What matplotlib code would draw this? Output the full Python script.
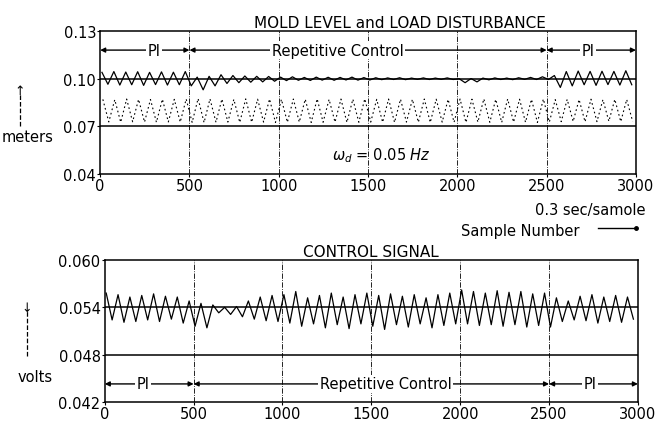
import numpy as np
import matplotlib.pyplot as plt

plt.rcParams['font.family'] = ['DejaVu Sans']

# samples per cycle of the 0.05 Hz disturbance at 0.3 sec/sample
period = 200 / 3.0

# ---- top plot: mold level (one peak / trough per cycle, 45 cycles) ----
level_peaks = [0.1040, 0.1045, 0.1042, 0.1044, 0.1040, 0.1043, 0.1041, 0.1045,
               0.1010, 0.1015, 0.1025, 0.1020, 0.1017, 0.1015, 0.1014,
               0.1010, 0.1012, 0.1008, 0.1010, 0.1009, 0.1008, 0.1010, 0.1007,
               0.1006, 0.1005, 0.1006, 0.1004, 0.1005, 0.1004, 0.1005,
               0.1000, 0.1001, 0.1004, 0.1005, 0.1004, 0.1006, 0.1008, 0.1012,
               0.1020, 0.1045, 0.1048, 0.1046, 0.1047, 0.1046, 0.1050]
level_troughs = [0.0965, 0.0960, 0.0962, 0.0958, 0.0963, 0.0960, 0.0962, 0.0955,
                 0.0930, 0.0955, 0.0970, 0.0975, 0.0978, 0.0980, 0.0984,
                 0.0988, 0.0990, 0.0989, 0.0991, 0.0990, 0.0992, 0.0991, 0.0992,
                 0.0994, 0.0995, 0.0994, 0.0996, 0.0995, 0.0996, 0.0995,
                 0.0975, 0.0980, 0.0993, 0.0995, 0.0994, 0.0996, 0.0995, 0.0995,
                 0.0945, 0.0955, 0.0962, 0.0958, 0.0963, 0.0960, 0.0962]

# load disturbance
load_peaks = [0.0870, 0.0868, 0.0872, 0.0870, 0.0869, 0.0871, 0.0870, 0.0872,
              0.0875, 0.0873, 0.0872, 0.0870, 0.0873, 0.0871, 0.0872,
              0.0870, 0.0872, 0.0871, 0.0873, 0.0870, 0.0872, 0.0871, 0.0873,
              0.0870, 0.0872, 0.0871, 0.0870, 0.0872, 0.0871, 0.0870,
              0.0872, 0.0871, 0.0873, 0.0870, 0.0872, 0.0871, 0.0870, 0.0872,
              0.0868, 0.0870, 0.0869, 0.0871, 0.0868, 0.0870, 0.0869]
load_troughs = [0.0728, 0.0726, 0.0729, 0.0727, 0.0726, 0.0728, 0.0727, 0.0725,
                0.0724, 0.0726, 0.0727, 0.0725, 0.0726, 0.0727, 0.0725,
                0.0726, 0.0727, 0.0725, 0.0726, 0.0727, 0.0725, 0.0726, 0.0727,
                0.0726, 0.0725, 0.0727, 0.0726, 0.0725, 0.0727, 0.0726,
                0.0725, 0.0727, 0.0726, 0.0725, 0.0727, 0.0726, 0.0725, 0.0727,
                0.0730, 0.0731, 0.0729, 0.0730, 0.0732, 0.0730, 0.0731]

# ---- bottom plot: control signal ----
ctrl_peaks = [0.0558, 0.0556, 0.0553, 0.0555, 0.0557, 0.0554, 0.0553, 0.0548,
              0.0545, 0.0543, 0.0540, 0.0541, 0.0548, 0.0553, 0.0555,
              0.0556, 0.0560, 0.0552, 0.0555, 0.0558, 0.0553, 0.0556, 0.0558,
              0.0555, 0.0557, 0.0554, 0.0556, 0.0552, 0.0556, 0.0558,
              0.0562, 0.0560, 0.0558, 0.0561, 0.0559, 0.0560, 0.0557, 0.0558,
              0.0552, 0.0548, 0.0554, 0.0556, 0.0553, 0.0555, 0.0553]
ctrl_troughs = [0.0524, 0.0521, 0.0522, 0.0524, 0.0522, 0.0525, 0.0520, 0.0516,
                0.0514, 0.0533, 0.0531, 0.0528, 0.0525, 0.0523, 0.0522,
                0.0520, 0.0516, 0.0519, 0.0514, 0.0518, 0.0513, 0.0519, 0.0516,
                0.0512, 0.0518, 0.0515, 0.0519, 0.0514, 0.0517, 0.0519,
                0.0519, 0.0517, 0.0518, 0.0516, 0.0518, 0.0515, 0.0517, 0.0515,
                0.0522, 0.0524, 0.0523, 0.0520, 0.0522, 0.0521, 0.0525]

xticks = [0, 500, 1000, 1500, 2000, 2500, 3000]
switch_points = [500, 1000, 1500, 2000, 2500]


def zigzag(peaks, troughs, phase):
    xs, ys = [], []
    for k, (p, t) in enumerate(zip(peaks, troughs)):
        xs += [phase + k * period, phase + (k + 0.5) * period]
        ys += [p, t]
    return np.array(xs), np.array(ys)


def mode_arrows(ax, y, labels):
    # |<-- PI -->|<-- Repetitive Control -->|<-- PI -->|
    for (x0, x1, xt, txt) in labels:
        ax.annotate('', xy=(x0, y), xytext=(x1, y),
                    arrowprops=dict(arrowstyle='<|-|>', color='black', lw=1,
                                    mutation_scale=7, shrinkA=0, shrinkB=0))
        ax.text(xt, y, txt, ha='center', va='center', fontsize=10.5,
                bbox=dict(facecolor='white', edgecolor='none', pad=1))


fig = plt.figure(figsize=(6.59, 4.27), dpi=100)
ax1 = fig.add_axes([0.152, 0.590, 0.813, 0.335])
ax2 = fig.add_axes([0.159, 0.056, 0.809, 0.333])

# top
x, y = zigzag(level_peaks, level_troughs, 10)
ax1.plot(x, y, color='black', lw=0.9)
x, y = zigzag(load_peaks, load_troughs, 15)
ax1.plot(x, y, color='black', lw=0.8, ls=(0, (1.5, 2.5)))
ax1.axhline(0.10, color='black', lw=1.1)
ax1.axhline(0.07, color='black', lw=1.1)
for xv in switch_points:
    ax1.axvline(xv, color='black', lw=0.6, ls='-.')
ax1.set_xlim(0, 3000)
ax1.set_ylim(0.04, 0.13)
ax1.set_yticks([0.04, 0.07, 0.10, 0.13])
ax1.set_yticklabels(['0.04', '0.07', '0.10', '0.13'])
mode_arrows(ax1, 0.118, [(0, 500, 300, 'PI'),
                          (500, 2500, 1330, 'Repetitive Control'),
                          (2500, 3000, 2730, 'PI')])
ax1.text(1300, 0.052, r'$\omega_d$ = 0.05 $Hz$', fontsize=10.5, va='center')
ax1.set_title('MOLD LEVEL and LOAD DISTURBANCE', fontsize=11, pad=3,
              x=0.56)

# bottom
x, y = zigzag(ctrl_peaks, ctrl_troughs, 8)
ax2.plot(x, y, color='black', lw=0.9)
ax2.axhline(0.054, color='black', lw=1.1)
ax2.axhline(0.048, color='black', lw=1.1)
for xv in switch_points:
    ax2.axvline(xv, color='black', lw=0.6, ls='-.')
ax2.set_xlim(0, 3000)
ax2.set_ylim(0.042, 0.060)
ax2.set_yticks([0.042, 0.048, 0.054, 0.060])
ax2.set_yticklabels(['0.042', '0.048', '0.054', '0.060'])
mode_arrows(ax2, 0.0443, [(0, 500, 215, 'PI'),
                           (500, 2500, 1580, 'Repetitive Control'),
                           (2500, 3000, 2730, 'PI')])
ax2.set_title('CONTROL SIGNAL', fontsize=11, pad=3, x=0.50)

for ax in (ax1, ax2):
    ax.set_xticks(xticks)
    ax.tick_params(axis='both', length=2, labelsize=10.5, pad=1)
    for s in ax.spines.values():
        s.set_linewidth(1.1)

# axis captions
fig.text(0.042, 0.677, 'meters', ha='center', va='center', fontsize=10.5)
fig.add_artist(plt.Line2D([0.030, 0.030], [0.703, 0.780], color='black',
                          lw=0.9, ls='--', transform=fig.transFigure))
fig.text(0.030, 0.785, '\u2191', ha='center', va='center', fontsize=9)
fig.text(0.053, 0.115, 'volts', ha='center', va='center', fontsize=10.5)
fig.add_artist(plt.Line2D([0.041, 0.041], [0.164, 0.270], color='black',
                          lw=0.9, ls='--', transform=fig.transFigure))
fig.text(0.041, 0.277, '\u2193', ha='center', va='center', fontsize=9)
fig.text(0.895, 0.508, '0.3 sec/samole', ha='center', va='center',
         fontsize=10.5)
fig.text(0.789, 0.459, 'Sample Number', ha='center', va='center',
         fontsize=10.5)
fig.add_artist(plt.Line2D([0.908, 0.965], [0.463, 0.463], color='black',
                          lw=1, marker='o', markersize=2.5, markevery=[1],
                          transform=fig.transFigure))

fig.savefig('out.png', dpi=100)
